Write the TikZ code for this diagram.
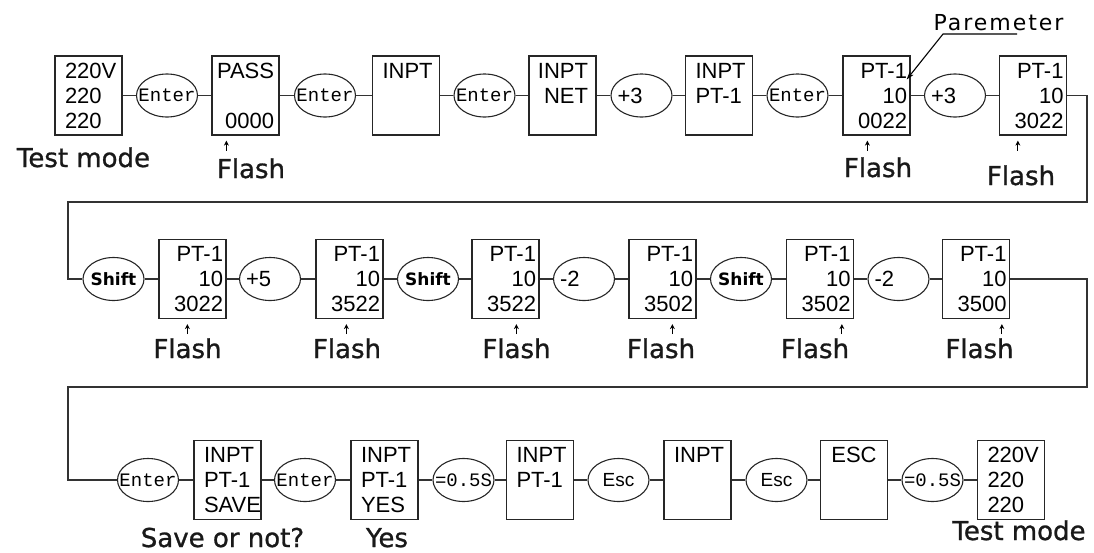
\documentclass[tikz,border=0pt]{standalone}
\usepackage{fontspec}
\setmainfont{DejaVu Sans}
\newfontfamily\lcdfont{Liberation Sans}
\newfontfamily\keyfont{Liberation Mono}
\newfontfamily\lblfont[FakeBold=1]{DejaVu Sans}
\newfontfamily\parfont[LetterSpace=9]{DejaVu Sans}
\usetikzlibrary{arrows.meta,shapes.geometric}

\begin{document}
\begin{tikzpicture}[
    x=1pt, y=-1pt,
    disp/.style={rectangle, draw=black!85, line width=1.3pt, minimum width=67pt, minimum height=79pt,
        inner xsep=10pt, inner ysep=0pt, text width=47pt, text height=17.5pt, text depth=52.5pt,
        align=left, font=\lcdfont\fontsize{22}{25}\selectfont},
    dispr/.style={disp, inner xsep=3pt, text width=61pt, align=right},
    key/.style={ellipse, draw=black!85, line width=1.1pt, minimum width=61pt, minimum height=43pt,
        inner xsep=-14pt, inner ysep=0pt, font=\keyfont\fontsize{19}{19}\selectfont},
    keyn/.style={key, text width=48pt, align=left, font=\lcdfont\fontsize{22}{22}\selectfont},
    keyb/.style={key, font=\bfseries\fontsize{17}{17}\selectfont},
    keys/.style={key, font=\lcdfont\fontsize{19}{19}\selectfont},
    link/.style={draw=black!80, line width=1.3pt},
    tick/.style={-{Stealth[length=5pt, width=5pt]}, line width=1pt},
    lbl/.style={anchor=base, font=\lblfont\fontsize{26}{26}\selectfont, text=black!90}
]
\useasboundingbox (0,0) rectangle (1094,552);

% Row 1
\node[disp] (test1) at (88.5,95.5) {220V\\220\\220};
\node[key] (enter1) at (167,95.5) {Enter};
\node[disp, inner xsep=5pt, text width=57pt] (pass) at (245.5,95.5) {PASS\\\mbox{}\\\hspace*{\fill}0000};
\node[key] (enter2) at (325,95.5) {Enter};
\node[disp] (inpt1) at (406,95.5) {INPT};
\node[key] (enter3) at (484.5,95.5) {Enter};
\node[disp, inner xsep=8pt, text width=51pt, align=right] (inptnet) at (562.5,95.5) {INPT\\NET};
\node[keyn] (plus3a) at (641.5,95.5) {+3};
\node[disp] (inptpt) at (719,95.5) {INPT\\PT-1};
\node[key] (enter4) at (797.5,95.5) {Enter};
\node[dispr] (pt0022) at (876.5,95.5) {PT-1\\10\\0022};
\node[keyn] (plus3b) at (955,95.5) {+3};
\node[dispr] (pt3022) at (1033,95.5) {PT-1\\10\\3022};

% Row 2
\node[keyb] (shift1) at (113.5,279) {Shift};
\node[dispr] (pt3022b) at (192.5,279) {PT-1\\10\\3022};
\node[keyn] (plus5) at (270,279) {+5};
\node[dispr] (pt3522) at (349.5,279) {PT-1\\10\\3522};
\node[keyb] (shift2) at (428,279) {Shift};
\node[dispr] (pt3522b) at (505.5,279) {PT-1\\10\\3522};
\node[keyn] (minus2a) at (584,279) {-2};
\node[dispr] (pt3502) at (662.5,279) {PT-1\\10\\3502};
\node[keyb] (shift3) at (741,279) {Shift};
\node[dispr] (pt3502b) at (820,279) {PT-1\\10\\3502};
\node[keyn] (minus2b) at (898.5,279) {-2};
\node[dispr] (pt3500) at (976,279) {PT-1\\10\\3500};

% Row 3
\node[key] (enter5) at (148,480) {Enter};
\node[disp] (save) at (227.5,480) {INPT\\PT-1\\SAVE};
\node[key] (enter6) at (305,480) {Enter};
\node[disp] (yes) at (384.5,480) {INPT\\PT-1\\YES};
\node[key] (wait1) at (463.5,480) {=0.5S};
\node[disp] (inptpt2) at (540,480) {INPT\\PT-1};
\node[keys] (esc1) at (618.5,480) {Esc};
\node[disp] (inpt2) at (697.5,480) {INPT};
\node[keys] (esc2) at (776.5,480) {Esc};
\node[disp, align=center] (escbox) at (854,480) {ESC};
\node[key] (wait2) at (932.5,480) {=0.5S};
\node[disp] (test2) at (1011,480) {220V\\220\\220};

% connectors
\foreach \a/\b in {test1/enter1, enter1/pass, pass/enter2, enter2/inpt1, inpt1/enter3,
    enter3/inptnet, inptnet/plus3a, plus3a/inptpt, inptpt/enter4, enter4/pt0022,
    pt0022/plus3b, plus3b/pt3022,
    shift1/pt3022b, pt3022b/plus5, plus5/pt3522, pt3522/shift2, shift2/pt3522b,
    pt3522b/minus2a, minus2a/pt3502, pt3502/shift3, shift3/pt3502b, pt3502b/minus2b,
    minus2b/pt3500,
    enter5/save, save/enter6, enter6/yes, yes/wait1, wait1/inptpt2, inptpt2/esc1,
    esc1/inpt2, inpt2/esc2, esc2/escbox, escbox/wait2, wait2/test2}
    \draw[link] (\a) -- (\b);

% wrap lines
\coordinate (wrapA1) at (1087,202);
\coordinate (wrapA2) at (68,202);
\draw[link] (pt3022.east) -| (wrapA1) -- (wrapA2) |- (shift1.west);
\coordinate (wrapB1) at (1087,387);
\coordinate (wrapB2) at (68,387);
\draw[link] (pt3500.east) -| (wrapB1) -- (wrapB2) |- (enter5.west);

% parameter pointer
\node[font=\parfont\fontsize{22}{22}\selectfont, anchor=base] (parlbl) at (998.5,30) {Paremeter};
\coordinate (parend) at (1017,34);
\coordinate (parbend) at (943,34);
\draw[-{Stealth[length=8pt, width=5pt]}, line width=1.1pt] (parend) -- (parbend) -- ([shift={(-4,-16)}]pt0022.east);

% flash marks
\foreach \b/\d in {pass/15, pt0022/25, pt3022/19, pt3022b/29, pt3522/31, pt3522b/45,
    pt3502/44, pt3502b/56, pt3500/60}
    \draw[tick] ([shift={(\d,15)}]\b.south west) -- ++(0,-10);

% labels
\node[lbl] (tm1) at (83.5,167) {Test mode};
\node[lbl] (fl1) at (251,178) {Flash};
\node[lbl] (fl2) at (878,177) {Flash};
\node[lbl] (fl3) at (1021,185) {Flash};
\node[lbl] (fl4) at (187.5,358) {Flash};
\node[lbl] (fl5) at (347,358) {Flash};
\node[lbl] (fl6) at (516.5,358) {Flash};
\node[lbl] (fl7) at (661,358) {Flash};
\node[lbl] (fl8) at (815,358) {Flash};
\node[lbl] (fl9) at (979.5,358) {Flash};
\node[lbl] (saveq) at (222.5,547) {Save or not?};
\node[lbl] (yeslbl) at (387,547) {Yes};
\node[lbl] (tm2) at (1019,540) {Test mode};

\end{tikzpicture}
\end{document}
